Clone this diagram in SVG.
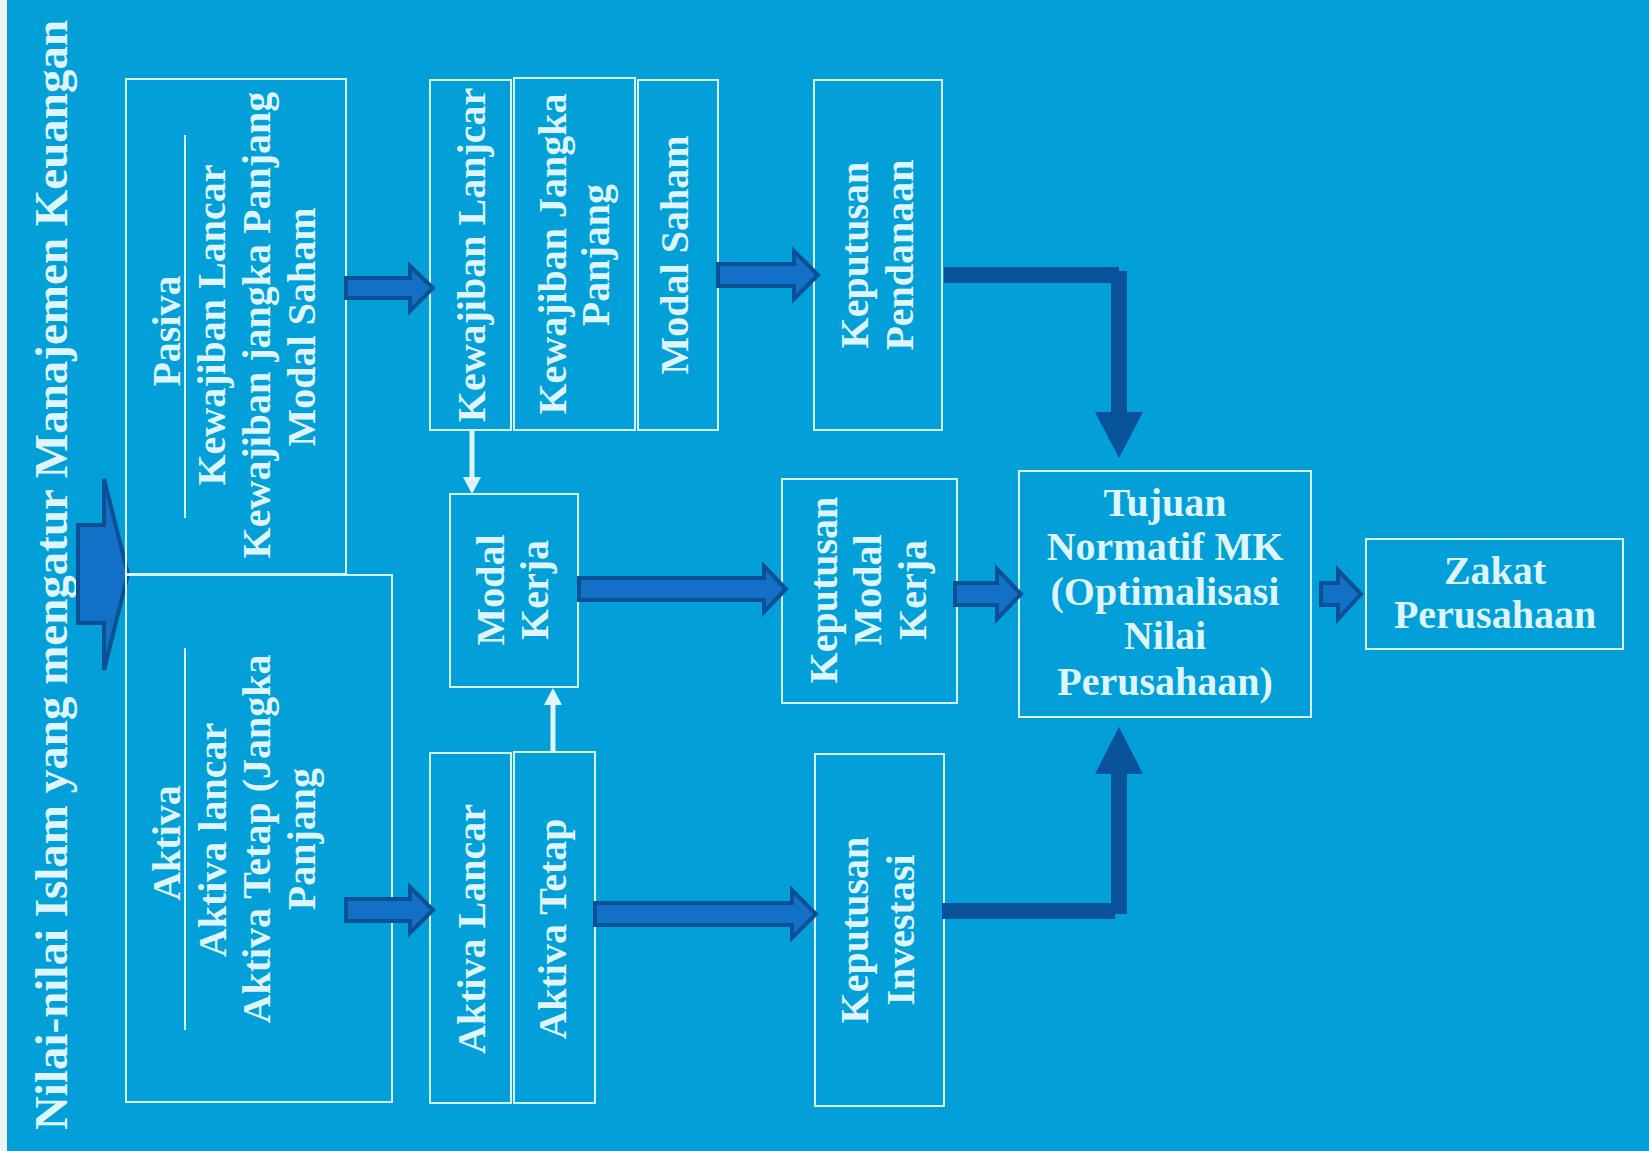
<svg xmlns="http://www.w3.org/2000/svg" width="1649" height="1151" viewBox="0 0 1649 1151">
<style>
.box{fill:none;stroke:#d9f3fa;stroke-width:2}
.t{font-family:"Liberation Serif",serif;font-weight:bold;font-size:40px;fill:#def6fb;text-anchor:middle}
.title{font-family:"Liberation Serif",serif;font-weight:bold;font-size:47px;fill:#def6fb;text-anchor:middle}
.blk{fill:#1270c6;stroke:#0b4f94;stroke-width:4;stroke-linejoin:miter}
.elb{fill:#08529a}
.thin{stroke:#def6fb;stroke-width:5;fill:none}
.thinh{fill:#def6fb}
.rule{stroke:#def6fb;stroke-width:2}
</style>
<rect x="0" y="0" width="1649" height="1151" fill="#029fd9"/>
<rect x="0" y="0" width="7" height="1151" fill="#eef3f6"/>

<g id="title">
<text class="title" transform="translate(67,575) rotate(-90)">Nilai-nilai Islam yang mengatur Manajemen Keuangan</text>
<polygon class="blk" points="78,525 104,525 104,479 128,574 104,670 104,623 78,623"/>
</g>

<g id="pasiva">
<rect class="box" x="126" y="79" width="220" height="495"/>
<line class="rule" x1="185" y1="135" x2="185" y2="518"/>
<text class="t" transform="translate(180,331) rotate(-90)">Pasiva</text>
<text class="t" transform="translate(225,325) rotate(-90)">Kewajiban Lancar</text>
<text class="t" transform="translate(270,325) rotate(-90)">Kewajiban jangka Panjang</text>
<text class="t" transform="translate(315,327) rotate(-90)">Modal Saham</text>
</g>

<g id="aktiva">
<rect class="box" x="126" y="575" width="266" height="527"/>
<line class="rule" x1="185" y1="648" x2="185" y2="1030"/>
<text class="t" transform="translate(180,843) rotate(-90)">Aktiva</text>
<text class="t" transform="translate(226,840) rotate(-90)">Aktiva lancar</text>
<text class="t" transform="translate(270,839) rotate(-90)">Aktiva Tetap (Jangka</text>
<text class="t" transform="translate(315,839) rotate(-90)">Panjang</text>
</g>

<g id="kewajiban-lancar">
<rect class="box" x="430" y="80" width="81" height="350"/>
<text class="t" transform="translate(485,255) rotate(-90)">Kewajiban Lanjcar</text>
</g>
<g id="kewajiban-jangka-panjang">
<rect class="box" x="514" y="78" width="121" height="352"/>
<text class="t" transform="translate(566,254) rotate(-90)">Kewajiban Jangka</text>
<text class="t" transform="translate(609,255) rotate(-90)">Panjang</text>
</g>
<g id="modal-saham">
<rect class="box" x="638" y="80" width="80" height="350"/>
<text class="t" transform="translate(688,255) rotate(-90)">Modal Saham</text>
</g>
<g id="keputusan-pendanaan">
<rect class="box" x="814" y="80" width="128" height="350"/>
<text class="t" transform="translate(868,255) rotate(-90)">Keputusan</text>
<text class="t" transform="translate(913,255) rotate(-90)">Pendanaan</text>
</g>
<g id="modal-kerja">
<rect class="box" x="450" y="494" width="128" height="193"/>
<text class="t" transform="translate(504,590) rotate(-90)">Modal</text>
<text class="t" transform="translate(548,590) rotate(-90)">Kerja</text>
</g>
<g id="keputusan-modal-kerja">
<rect class="box" x="782" y="479" width="175" height="224"/>
<text class="t" transform="translate(837,590) rotate(-90)">Keputusan</text>
<text class="t" transform="translate(881,590) rotate(-90)">Modal</text>
<text class="t" transform="translate(926,590) rotate(-90)">Kerja</text>
</g>
<g id="aktiva-lancar">
<rect class="box" x="430" y="753" width="81" height="350"/>
<text class="t" transform="translate(485,929) rotate(-90)">Aktiva Lancar</text>
</g>
<g id="aktiva-tetap">
<rect class="box" x="514" y="752" width="81" height="351"/>
<text class="t" transform="translate(566,929) rotate(-90)">Aktiva Tetap</text>
</g>
<g id="keputusan-investasi">
<rect class="box" x="815" y="754" width="129" height="352"/>
<text class="t" transform="translate(868,930) rotate(-90)">Keputusan</text>
<text class="t" transform="translate(914,930) rotate(-90)">Investasi</text>
</g>
<g id="tujuan">
<rect class="box" x="1019" y="471" width="292" height="246"/>
<text class="t" x="1165" y="516">Tujuan</text>
<text class="t" x="1165" y="560">Normatif MK</text>
<text class="t" x="1165" y="605">(Optimalisasi</text>
<text class="t" x="1165" y="649">Nilai</text>
<text class="t" x="1165" y="695">Perusahaan)</text>
</g>
<g id="zakat">
<rect class="box" x="1366" y="539" width="257" height="110"/>
<text class="t" x="1495" y="584">Zakat</text>
<text class="t" x="1495" y="628">Perusahaan</text>
</g>

<g id="connectors">
<polygon class="blk" points="346,278 410,278 410,266 433,288 410,311 410,298 346,298"/>
<polygon class="blk" points="346,899 410,899 410,887 433,910 410,933 410,921 346,921"/>
<polygon class="blk" points="718,264 794,264 794,251 818,275 794,299 794,286 718,286"/>
<polygon class="blk" points="579,578 764,578 764,566 786,589 764,612 764,600 579,600"/>
<polygon class="blk" points="595,903 792,903 792,890 816,914 792,938 792,925 595,925"/>
<polygon class="blk" points="955,583 997,583 997,569 1021,594 997,619 997,605 955,605"/>
<polygon class="blk" points="1321,583 1338,583 1338,570 1361,594 1338,619 1338,605 1321,605"/>
<line class="thin" x1="472" y1="431" x2="472" y2="480"/>
<polygon class="thinh" points="463,477 481,477 472,494"/>
<line class="thin" x1="553" y1="752" x2="553" y2="703"/>
<polygon class="thinh" points="544,705 562,705 553,688"/>
<rect class="elb" x="944" y="267" width="175" height="16"/>
<rect class="elb" x="1111" y="271" width="16" height="142"/>
<polygon class="elb" points="1095,412 1143,412 1119,458"/>
<rect class="elb" x="942" y="903" width="173" height="16"/>
<rect class="elb" x="1111" y="773" width="16" height="141"/>
<polygon class="elb" points="1095,774 1143,774 1119,727"/>
</g>
</svg>
